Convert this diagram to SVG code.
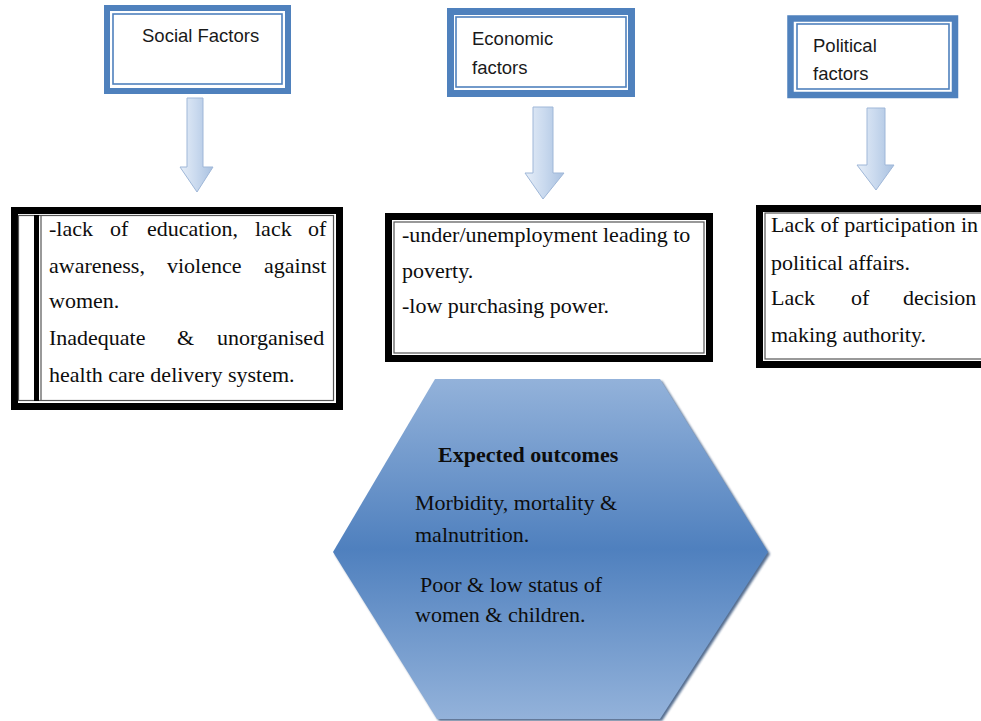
<svg xmlns="http://www.w3.org/2000/svg" width="981" height="721" viewBox="0 0 981 721">
  <defs>
    <linearGradient id="arrowFill" x1="0" y1="0" x2="1" y2="0">
      <stop offset="0" stop-color="#e6eef8"/>
      <stop offset="0.5" stop-color="#c9d9ee"/>
      <stop offset="1" stop-color="#a9c1e0"/>
    </linearGradient>
    <linearGradient id="hexFill" x1="0" y1="0" x2="0" y2="1">
      <stop offset="0" stop-color="#93b2da"/>
      <stop offset="0.5" stop-color="#4f80be"/>
      <stop offset="1" stop-color="#93b2da"/>
    </linearGradient>
    <filter id="soft" x="-10%" y="-10%" width="120%" height="120%">
      <feGaussianBlur stdDeviation="1.2"/>
    </filter>
    <style>
      .title-outer { fill: #ffffff; stroke: #4f81bd; }
      .title-inner { fill: none; stroke: #4f81bd; stroke-width: 1.6; }
      .title-text { font-family: "Liberation Sans", Arial, sans-serif; font-size: 18.5px; fill: #1a1a1a; }
      .box-outer { fill: #ffffff; stroke: #000000; stroke-width: 7; }
      .box-inner { fill: none; stroke: #555555; stroke-width: 1.2; }
      .body-text { font-family: "Liberation Serif", "Times New Roman", serif; font-size: 22px; fill: #0d0d0d; }
      .bold { font-weight: bold; }
      .arrow { fill: url(#arrowFill); stroke: #9fb7d8; stroke-width: 1; }
    </style>
  </defs>

  <rect x="0" y="0" width="981" height="721" fill="#ffffff"/>

  <!-- heading boxes -->
  <g id="social-title">
    <rect class="title-outer" x="107" y="8" width="181" height="83" stroke-width="6"/>
    <rect class="title-inner" x="113" y="14" width="169" height="70"/>
    <text class="title-text" x="142" y="42">Social Factors</text>
  </g>

  <g id="economic-title">
    <rect class="title-outer" x="450.5" y="11.5" width="181" height="82" stroke-width="7"/>
    <rect class="title-inner" x="456" y="17" width="170" height="70"/>
    <text class="title-text" x="472" y="45">Economic</text>
    <text class="title-text" x="472" y="74">factors</text>
  </g>

  <g id="political-title">
    <rect class="title-outer" x="790.5" y="18.5" width="164.5" height="76.5" stroke-width="6.5"/>
    <rect class="title-inner" x="797" y="24" width="152" height="65"/>
    <text class="title-text" x="813" y="52">Political</text>
    <text class="title-text" x="813" y="80">factors</text>
  </g>

  <!-- down arrows -->
  <g id="connectors">
    <path class="arrow" d="M187 98 H203 V167 H213 L197 192 L180 167 H187 Z"/>
    <path class="arrow" d="M533 107 H553 V173 H564 L543 199 L525 173 H533 Z"/>
    <path class="arrow" d="M867 108 H885 V165 H894 L876 190 L857 165 H867 Z"/>
  </g>

  <!-- factor detail boxes -->
  <g id="social-detail">
    <rect class="box-outer" x="14.5" y="210.5" width="325" height="196"/>
    <rect class="box-inner" x="18.5" y="215.5" width="315" height="185"/>
    <rect x="34" y="215" width="5" height="186" fill="#000000"/>
    <line x1="41" y1="215" x2="41" y2="401" stroke="#555555" stroke-width="1.2"/>
    <text class="body-text" y="236">
      <tspan x="49">-lack</tspan><tspan x="110">of</tspan><tspan x="147">education,</tspan><tspan x="255">lack</tspan><tspan x="308">of</tspan>
    </text>
    <text class="body-text" y="273">
      <tspan x="49">awareness,</tspan><tspan x="167">violence</tspan><tspan x="264">against</tspan>
    </text>
    <text class="body-text" x="49" y="308">women.</text>
    <text class="body-text" y="345">
      <tspan x="49">Inadequate</tspan><tspan x="177">&amp;</tspan><tspan x="217">unorganised</tspan>
    </text>
    <text class="body-text" x="49" y="382">health care delivery system.</text>
  </g>

  <g id="economic-detail">
    <rect class="box-outer" x="388.5" y="216.5" width="321" height="142"/>
    <rect class="box-inner" x="394" y="222" width="310" height="131"/>
    <text class="body-text" x="402" y="242">-under/unemployment leading to</text>
    <text class="body-text" x="402" y="278">poverty.</text>
    <text class="body-text" x="402" y="313">-low purchasing power.</text>
  </g>

  <g id="political-detail">
    <rect class="box-outer" x="759.5" y="208.5" width="240" height="156"/>
    <rect class="box-inner" x="765" y="213" width="230" height="146"/>
    <text class="body-text" x="771" y="232">Lack of participation in</text>
    <text class="body-text" x="771" y="270">political affairs.</text>
    <text class="body-text" y="305">
      <tspan x="771">Lack</tspan><tspan x="851">of</tspan><tspan x="903">decision</tspan>
    </text>
    <text class="body-text" x="771" y="342">making authority.</text>
  </g>

  <!-- outcome hexagon -->
  <g id="expected-outcomes">
    <polygon points="437,381 662,381 770,554 662,721 439,721 335,554" fill="#1f3e6b" opacity="0.75" filter="url(#soft)"/>
    <polygon points="435,379 660,379 768,552 660,719 437,719 333,552" fill="url(#hexFill)"/>
    <text class="body-text bold" x="438" y="462">Expected outcomes</text>
    <text class="body-text" x="415" y="510">Morbidity, mortality &amp;</text>
    <text class="body-text" x="415" y="542">malnutrition.</text>
    <text class="body-text" x="420" y="592">Poor &amp; low status of</text>
    <text class="body-text" x="415" y="622">women &amp; children.</text>
  </g>
</svg>
